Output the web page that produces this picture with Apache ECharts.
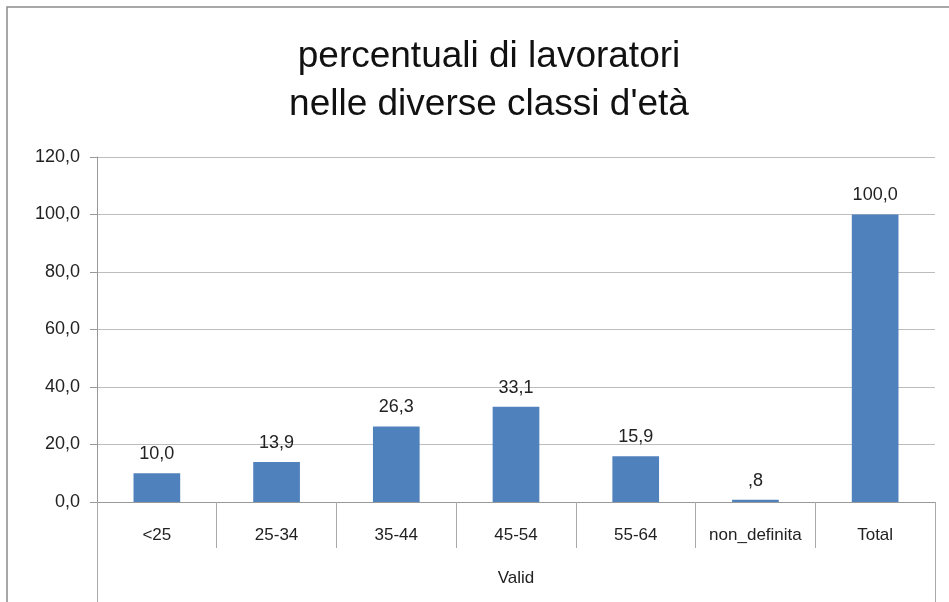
<!DOCTYPE html>
<html>
<head>
<meta charset="utf-8">
<script src="https://cdn.jsdelivr.net/npm/echarts@6/dist/echarts.min.js"></script>
<style>
  html, body { margin: 0; padding: 0; background: #fff; }
  #main { width: 949px; height: 602px; }
</style>
</head>
<body>
<div id="main"></div>
<script>
  var categories = ['<25', '25-34', '35-44', '45-54', '55-64', 'non_definita', 'Total'];
  var percentuali = [10.0, 13.9, 26.3, 33.1, 15.9, 0.8, 100.0];
  var groupLabels = ['Valid'];
  var titleLines = ['percentuali di lavoratori', "nelle diverse classi d'età"];

  // formato italiano: virgola decimale, ",8" per valori sotto 1
  function fmt(v) {
    var s = Number(v).toFixed(1).replace('.', ',');
    if (v > 0 && v < 1) s = s.replace(/^0/, '');
    return s;
  }

  var font = '"Liberation Sans Narrow", "Liberation Sans", sans-serif';
  var myChart = echarts.init(document.getElementById('main'));
  myChart.setOption({
    animation: false,
    title: {
      text: titleLines.join('\n'),
      left: 484,
      textAlign: 'center',
      top: 28,
      textStyle: {
        fontFamily: font,
        fontSize: 37,
        fontWeight: 'normal',
        color: '#111',
        lineHeight: 48
      }
    },
    graphic: [{
      type: 'rect',
      shape: { x: 7, y: 7, width: 980, height: 640 },
      style: { fill: 'none', stroke: '#8c8c8c', lineWidth: 1.5 },
      silent: true
    }],
    grid: { left: 97, right: 14, top: 157, bottom: 100 },
    xAxis: [
      {
        type: 'category',
        data: categories,
        axisLine: { lineStyle: { color: '#999', width: 1 } },
        axisTick: { show: true, length: 46, interval: 0, lineStyle: { color: '#aaa' } },
        axisLabel: {
          interval: 0,
          margin: 25,
          fontFamily: font,
          fontSize: 17,
          color: '#222'
        }
      },
      {
        type: 'category',
        data: groupLabels,
        position: 'bottom',
        offset: 46,
        axisLine: { show: false },
        axisTick: { show: true, length: 54, lineStyle: { color: '#aaa' } },
        axisLabel: {
          margin: 22,
          fontFamily: font,
          fontSize: 17,
          color: '#222'
        }
      }
    ],
    yAxis: {
      type: 'value',
      min: 0,
      max: 120,
      interval: 20,
      axisLine: { show: true, lineStyle: { color: '#999' } },
      axisTick: { show: true, length: 7, lineStyle: { color: '#999' } },
      splitLine: { lineStyle: { color: '#bdbdbd' } },
      axisLabel: {
        formatter: fmt,
        margin: 17,
        fontFamily: font,
        fontSize: 18,
        color: '#222'
      }
    },
    series: [{
      type: 'bar',
      xAxisIndex: 0,
      data: percentuali,
      barWidth: '39%',
      itemStyle: { color: '#4f81bd' },
      label: {
        show: true,
        position: 'top',
        distance: 10,
        formatter: function (p) { return fmt(p.value); },
        fontFamily: font,
        fontSize: 18,
        color: '#222'
      }
    }]
  });
</script>
</body>
</html>
